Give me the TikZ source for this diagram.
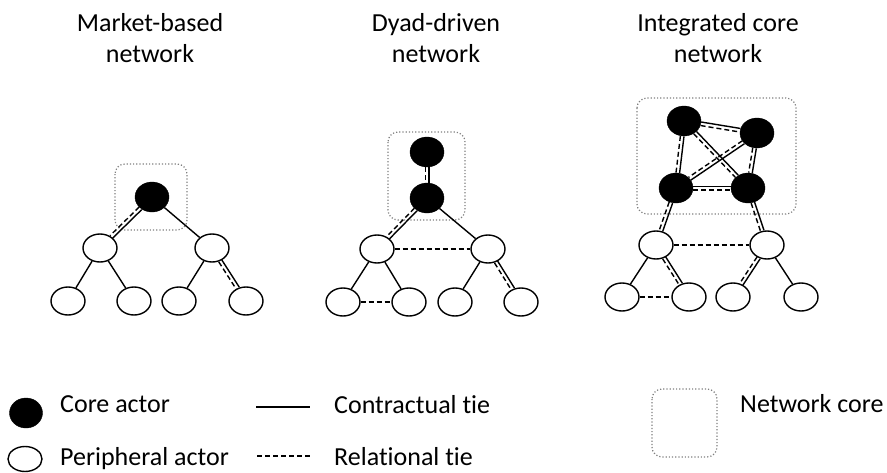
\documentclass[tikz,border=0pt]{standalone}
\usepackage{fontspec}
\setmainfont{Carlito}[Ligatures=NoCommon]
\usetikzlibrary{calc,shapes.geometric}

\tikzset{
  core/.style={ellipse, draw=black, fill=black, minimum width=34pt, minimum height=30pt, inner sep=0pt},
  peri/.style={ellipse, draw=black, line width=1.4pt, fill=white, minimum width=34pt, minimum height=28pt, inner sep=0pt},
  corebox/.style={draw=gray, dotted, line width=1.2pt, rounded corners=10pt},
  tie/.style={line width=1.4pt},
  reltie/.style={line width=1.4pt, dash pattern=on 5pt off 3pt},
  title/.style={align=center, inner sep=0pt, font=\fontsize{26}{31}\selectfont},
  legend/.style={anchor=base west, inner sep=0pt, font=\fontsize{26}{31}\selectfont},
}

% contractual and relational tie side by side
\newcommand{\bothties}[2]{%
  \path (#1) -- (#2) coordinate[pos=0] (#1-#2-s) coordinate[pos=1] (#1-#2-t);
  \draw[tie] ($(#1-#2-s)!1.8pt!90:(#1-#2-t)$) -- ($(#1-#2-t)!1.8pt!-90:(#1-#2-s)$);
  \draw[reltie] ($(#1-#2-s)!1.8pt!-90:(#1-#2-t)$) -- ($(#1-#2-t)!1.8pt!90:(#1-#2-s)$);
}

\begin{document}
\begin{tikzpicture}[x=1pt, y=-1pt]
\useasboundingbox (0,0) rectangle (887,472);

% titles (base = last line)
\node[title, anchor=base] (tm) at (150,62) {Market-based\\network};
\node[title, anchor=base] (td) at (436,62) {Dyad-driven\\network};
\node[title, anchor=base] (ti) at (718,62) {Integrated core\\network};

% network cores
\draw[corebox] (115,164) rectangle (187,230);
\draw[corebox] (388,132) rectangle (465,220);
\draw[corebox] (637,98) rectangle (796,214);

% market-based
\node[core] (m0) at (152,197) {};
\node[peri] (m1) at (100,248) {};
\node[peri] (m2) at (212,248) {};
\node[peri] (m11) at (68,301) {};
\node[peri] (m12) at (134,301) {};
\node[peri] (m21) at (179,301) {};
\node[peri] (m22) at (246,301) {};

% dyad-driven
\node[core] (d0) at (427,152) {};
\node[core] (d1) at (427,198) {};
\node[peri] (dL) at (377,249) {};
\node[peri] (dR) at (488,249) {};
\node[peri] (dLL) at (343,302) {};
\node[peri] (dLR) at (409,302) {};
\node[peri] (dRL) at (455,302) {};
\node[peri] (dRR) at (521,302) {};

% integrated core
\node[core] (c1) at (684,121) {};
\node[core] (c2) at (757,133) {};
\node[core] (c3) at (676,188) {};
\node[core] (c4) at (748,188) {};
\node[peri] (iL) at (656,245) {};
\node[peri] (iR) at (767,245) {};
\node[peri] (iLL) at (622,297) {};
\node[peri] (iLR) at (689,297) {};
\node[peri] (iRL) at (733,297) {};
\node[peri] (iRR) at (801,297) {};

% ties
\foreach \a/\b in {m0/m2, m1/m11, m1/m12, m2/m21, d1/dR, dL/dLL, dL/dLR, dR/dRL, iL/iLL, iR/iRR}
  \draw[tie] (\a) -- (\b);
\foreach \a/\b in {dL/dR, dLL/dLR, iL/iR, iLL/iLR}
  \draw[reltie] (\a) -- (\b);
\foreach \a/\b in {m0/m1, m2/m22, d0/d1, d1/dL, dR/dRR, c1/c2, c1/c3, c1/c4, c2/c3, c2/c4, c3/c4, c3/iL, c4/iR, iL/iLR, iR/iRL}
  {\bothties{\a}{\b}}

% legend
\node[core, minimum width=33pt, minimum height=30pt] (lc) at (26,413) {};
\node[legend] (lct) at (60,412) {Core actor};
\node[peri, minimum width=34pt, minimum height=25pt] (lp) at (25,459) {};
\node[legend] (lpt) at (60,465) {Peripheral actor};
\coordinate (ls1) at (256,407);
\coordinate (ls2) at (310,407);
\draw[tie] (ls1) -- (ls2);
\node[legend] (lst) at (334,413) {Contractual tie};
\coordinate (lr1) at (257,456);
\coordinate (lr2) at (311,456);
\draw[line width=1.2pt, dash pattern=on 5pt off 3pt] (lr1) -- (lr2);
\node[legend] (lrt) at (334,465) {Relational tie};
\draw[corebox] (652,389) rectangle (717,457);
\node[legend] (lbt) at (740,412) {Network core};
\end{tikzpicture}
\end{document}
